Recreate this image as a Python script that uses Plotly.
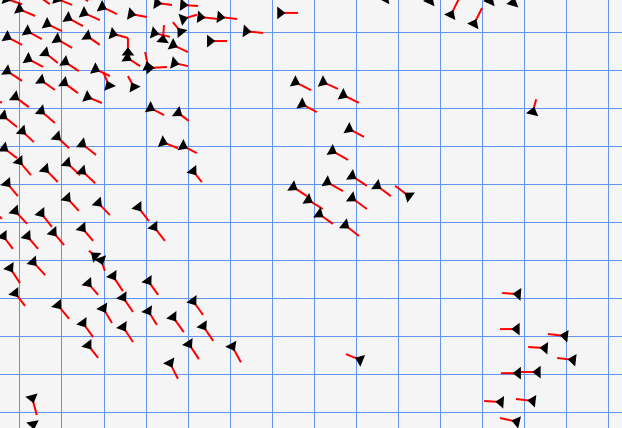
import plotly.graph_objects as go

# arrow tips (where the black head sits) and tail ends, in grid units
x_tip = [-0.33, 0.43, 0.88, 1.43, 1.95, 3.26, 3.88, -0.02, 1.14, 1.52,
         2.64, 3.88, 4.29, 4.76, 0.64, 0.17, -0.31, 0.88, 1.60, 2.21,
         2.57, 2.55, 3.05, 3.07, 3.19, 3.40, 3.83, 3.64, 3.67, 4.52,
         5.38, 6.19, 2.71, 1.79, 2.12, -0.76, -0.40, 0.50, -0.12, 0.50,
         1.05, 1.60, -0.31, 1.07, 0.19, 0.60, 3.10, 3.76, 0.05, 0.88,
         3.40, 3.88, -0.38, -0.02, 0.60, 1.12, 1.48, 1.48, 4.12, -0.31,
         1.12, 1.86, 2.81, 3.19, -0.12, 0.50, -0.71, -0.40, 0.17, 0.79,
         1.48, 1.79, 1.93, -0.24, 0.31, -0.12, 0.90, 1.50, 1.62, 1.62,
         1.98, 2.21, 2.45, 2.45, 3.05, 3.05, 3.64, 4.12, 4.36, 4.02,
         3.57, 5.05, 0.29, 0.31, 6.55, 7.21, 7.69, 6.71, 7.83, 7.43,
         7.90, 7.31, 6.50, 6.86, 8.50, 9.26, 7.90, 7.12, 7.74, 8.10,
         11.86, 11.83, 12.98, 12.50, 13.17, 11.86, 12.33, 11.45, 12.21, 11.83,
         8.69, 9.76, 10.26, 10.81, 11.19, 11.74, 12.21]
y_tip = [10.88, 10.96, 10.88, 10.96, 10.67, 10.77, 10.72, 10.61, 10.38, 10.51,
         10.48, 10.35, 10.40, 10.40, 10.22, 10.03, 9.88, 9.82, 9.90, 9.96,
         9.46, 9.33, 9.09, 9.06, 9.98, 9.80, 10.01, 9.67, 9.19, 9.77,
         10.03, 10.51, 8.56, 9.03, 8.59, 8.35, 7.80, 7.93, 8.30, 8.74,
         8.67, 8.30, 8.98, 9.22, 9.30, 9.46, 8.01, 7.88, 7.40, 7.25,
         7.11, 7.01, 6.95, 6.61, 6.40, 6.56, 6.35, 7.06, 6.35, 6.03,
         5.64, 5.51, 5.40, 4.88, 5.30, 5.24, 5.38, 4.64, 4.64, 4.74,
         4.85, 4.11, 4.01, 3.80, 3.96, 3.14, 2.82, 2.35, 1.77, 3.40,
         2.74, 3.59, 3.03, 2.25, 3.46, 2.67, 2.51, 2.93, 2.27, 1.80,
         1.30, 1.74, 0.38, -0.31, 8.69, 8.69, 8.35, 8.11, 7.46, 6.88,
         6.22, 6.06, 5.93, 5.59, 5.96, 5.69, 5.64, 5.22, 4.93, 1.38,
         3.11, 2.19, 2.01, 1.69, 1.38, 1.03, 1.06, 0.27, 0.30, -0.25,
         10.88, 10.82, 10.46, 10.22, 10.82, 10.77, 7.90]
x_tail = [0.05, 0.71, 1.24, 1.62, 2.31, 3.62, 4.24, 0.36, 1.50, 1.90,
          3.02, 4.21, 4.71, 5.17, 1.00, 0.52, 0.05, 1.24, 1.90, 2.57,
          2.57, 2.86, 2.98, 3.50, 3.57, 3.43, 3.64, 4.00, 4.00, 4.93,
          5.79, 6.62, 2.57, 2.14, 1.98, -0.43, -0.07, 0.83, 0.21, 0.83,
          1.38, 1.95, 0.05, 1.40, 0.55, 0.90, 3.43, 4.02, 0.33, 1.17,
          3.76, 4.21, -0.07, 0.26, 0.90, 1.43, 1.79, 1.81, 4.33, -0.05,
          1.40, 2.14, 3.07, 3.45, 0.17, 0.76, -0.43, -0.17, 0.43, 1.05,
          1.74, 1.64, 2.02, 0.00, 0.60, 0.12, 1.17, 1.74, 1.86, 1.86,
          2.19, 2.45, 2.69, 2.69, 3.29, 3.26, 3.90, 4.36, 4.60, 4.26,
          3.76, 5.26, 0.40, 0.38, 6.93, 7.57, 8.07, 7.07, 8.19, 7.81,
          8.26, 7.69, 6.83, 7.21, 8.83, 8.93, 8.26, 7.45, 8.07, 7.76,
          11.48, 11.43, 12.57, 12.10, 12.79, 11.45, 11.90, 11.05, 11.81, 11.43,
          8.86, 9.93, 10.48, 11.00, 11.36, 11.83, 12.29]
y_tail = [10.74, 10.74, 10.72, 10.82, 10.48, 10.72, 10.69, 10.43, 10.16, 10.32,
          10.40, 10.46, 10.35, 10.35, 10.03, 9.82, 9.67, 9.59, 9.67, 9.85,
          9.85, 9.11, 9.48, 9.09, 9.88, 10.19, 10.27, 9.48, 9.11, 9.77,
          9.98, 10.51, 8.85, 8.85, 8.96, 8.14, 7.51, 7.61, 8.03, 8.48,
          8.40, 8.14, 8.72, 8.98, 9.09, 9.19, 7.82, 7.67, 7.11, 6.95,
          6.95, 6.82, 6.69, 6.24, 6.06, 6.24, 6.03, 6.77, 6.06, 5.69,
          5.30, 5.19, 5.03, 4.51, 4.96, 4.88, 5.09, 4.30, 4.30, 4.40,
          4.51, 4.25, 3.72, 3.40, 3.61, 2.80, 2.46, 1.98, 1.43, 3.09,
          2.35, 3.19, 2.64, 1.85, 3.09, 2.30, 2.11, 2.56, 1.88, 1.40,
          0.88, 1.32, -0.07, -0.73, 8.48, 8.51, 8.14, 7.90, 7.25, 6.64,
          5.96, 5.82, 5.69, 5.35, 5.69, 5.96, 5.35, 4.96, 4.64, 1.53,
          3.14, 2.19, 2.06, 1.72, 1.43, 1.03, 1.06, 0.30, 0.35, -0.15,
          11.24, 11.22, 10.95, 10.64, 11.22, 11.11, 8.24]

xs, ys, sizes = [], [], []
for xt, yt, xh, yh in zip(x_tail, y_tail, x_tip, y_tip):
    xs += [xt, xh, None]
    ys += [yt, yh, None]
    sizes += [0, 11, 0]

fig = go.Figure(go.Scatter(
    x=xs, y=ys, mode="lines+markers",
    line=dict(color="#ff0000", width=2),
    marker=dict(symbol="triangle-down", size=sizes, color="#000000",
                opacity=1, angleref="previous", line=dict(width=0)),
    hoverinfo="skip", showlegend=False,
))

fig.update_layout(
    width=622, height=428,
    margin=dict(l=0, r=0, t=0, b=0),
    plot_bgcolor="#f5f5f5", paper_bgcolor="#f5f5f5",
    xaxis=dict(range=[-0.476, 14.333], dtick=1, tick0=0, showgrid=True,
               gridcolor="#6495ed", gridwidth=1, zeroline=False,
               showticklabels=False, ticks=""),
    yaxis=dict(range=[-0.413, 10.85], dtick=1, tick0=0, showgrid=True,
               gridcolor="#6495ed", gridwidth=1, zeroline=False,
               showticklabels=False, ticks=""),
)

fig.write_html(
    "out.html",
    config={"displayModeBar": False},
    post_script="document.body.style.margin='0';document.body.style.overflow='hidden';",
)
